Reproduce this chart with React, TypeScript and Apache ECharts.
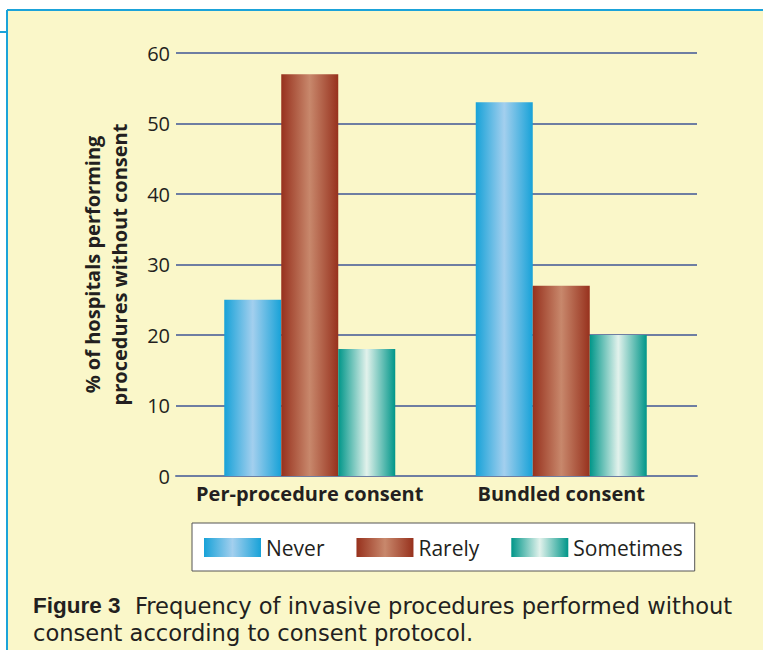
import React, { useEffect, useRef } from "react";
import * as echarts from "echarts";

const categories = ["Per-procedure consent", "Bundled consent"];
const seriesNames = ["Never", "Rarely", "Sometimes"];
const neverValues = [25, 53];
const rarelyValues = [57, 27];
const sometimesValues = [18, 20];
const yTicks = [0, 10, 20, 30, 40, 50, 60];
const yTitle = "% of hospitals performing\nprocedures without consent";
const captionBold = "Figure 3";
const captionRest = "Frequency of invasive procedures performed without\nconsent according to consent protocol.";

const grad = (edge: string, mid: string) =>
  new echarts.graphic.LinearGradient(0, 0, 1, 0, [
    { offset: 0, color: edge },
    { offset: 0.5, color: mid },
    { offset: 1, color: edge },
  ]);

export default function App() {
  const ref = useRef<HTMLDivElement>(null);
  useEffect(() => {
    if (!ref.current) return;
    const chart = echarts.init(ref.current, null, { renderer: "svg" });
    const font = "'Open Sans', 'Noto Sans', sans-serif";
    const capFont = "'DejaVu Sans', 'Liberation Sans', sans-serif";
    const capBoldFont = "'Liberation Sans', Arial, sans-serif";
    const textColor = "#231F20";
    const gridColor = "#6E7EA2";
    const values = [neverValues, rarelyValues, sometimesValues];
    const colors = [
      grad("#17A2D8", "#A3CFEE"),
      grad("#97311D", "#C8886C"),
      grad("#009689", "#E2F2EC"),
    ];
    const yMin = yTicks[0];
    const yMax = yTicks[yTicks.length - 1];
    chart.setOption({
      animation: false,
      backgroundColor: "#FFFFFF",
      graphic: [
        { type: "rect", shape: { x: 7, y: 10, width: 760, height: 645 }, style: { fill: "#FAF7C9" }, z: -10 },
        { type: "line", shape: { x1: 7, y1: 10, x2: 763, y2: 10 }, style: { stroke: "#1BA3D9", lineWidth: 2 }, z: -5 },
        { type: "line", shape: { x1: 7, y1: 10, x2: 7, y2: 650 }, style: { stroke: "#1BA3D9", lineWidth: 2 }, z: -5 },
        { type: "line", shape: { x1: 0, y1: 32, x2: 7, y2: 32 }, style: { stroke: "#1BA3D9", lineWidth: 2 }, z: -5 },
        {
          type: "text",
          left: 33,
          top: 592,
          style: {
            text: "{b|" + captionBold + "}  " + captionRest,
            font: "22.6px " + capFont,
            fill: textColor,
            lineHeight: 27,
            rich: {
              b: {
                fontWeight: "bold",
                fontSize: 22.5,
                fontFamily: capBoldFont,
                fill: textColor,
                lineHeight: 27,
              },
            },
          },
        },
      ],
      grid: [
        { left: 176, right: 66, top: 53, bottom: 174, containLabel: false },
        { left: 184, right: 76, top: 53, bottom: 174, containLabel: false },
      ],
      legend: {
        data: seriesNames,
        left: 192,
        top: 523,
        padding: [14, 12, 13, 12],
        itemWidth: 57,
        itemHeight: 19,
        itemGap: 32,
        icon: "rect",
        backgroundColor: "#FFFFFF",
        borderColor: "#555555",
        borderWidth: 1,
        textStyle: { fontFamily: font, fontSize: 21, color: textColor },
      },
      xAxis: [
        {
          type: "category",
          gridIndex: 0,
          data: categories,
          axisLine: { show: true, lineStyle: { color: gridColor, width: 2 } },
          axisTick: { show: false },
          axisLabel: { show: false },
        },
        {
          type: "category",
          gridIndex: 1,
          data: categories,
          axisLine: { show: false },
          axisTick: { show: false },
          axisLabel: { interval: 0, fontFamily: font, fontSize: 20, fontWeight: "bold", color: textColor, margin: 7 },
        },
      ],
      yAxis: [
        {
          type: "value",
          gridIndex: 0,
          min: yMin,
          max: yMax,
          interval: 10,
          name: yTitle,
          nameLocation: "middle",
          nameRotate: 90,
          nameGap: 43,
          nameTextStyle: { fontFamily: font, fontSize: 20, fontWeight: "bold", color: textColor, lineHeight: 27 },
          axisLine: { show: false },
          axisTick: { show: false },
          axisLabel: { fontFamily: font, fontSize: 20, color: textColor, margin: 6 },
          splitLine: { show: true, lineStyle: { color: gridColor, width: 2 } },
        },
        {
          type: "value",
          gridIndex: 1,
          min: yMin,
          max: yMax,
          interval: 10,
          show: false,
          splitLine: { show: false },
        },
      ],
      series: seriesNames.map((name, i) => ({
        name,
        type: "bar",
        xAxisIndex: 1,
        yAxisIndex: 1,
        data: values[i],
        barWidth: 57,
        barGap: "0%",
        itemStyle: { color: colors[i] },
      })),
    });
    return () => chart.dispose();
  }, []);
  return <div ref={ref} style={{ position: "fixed", left: 0, top: 0, width: 763, height: 650 }} />;
}
